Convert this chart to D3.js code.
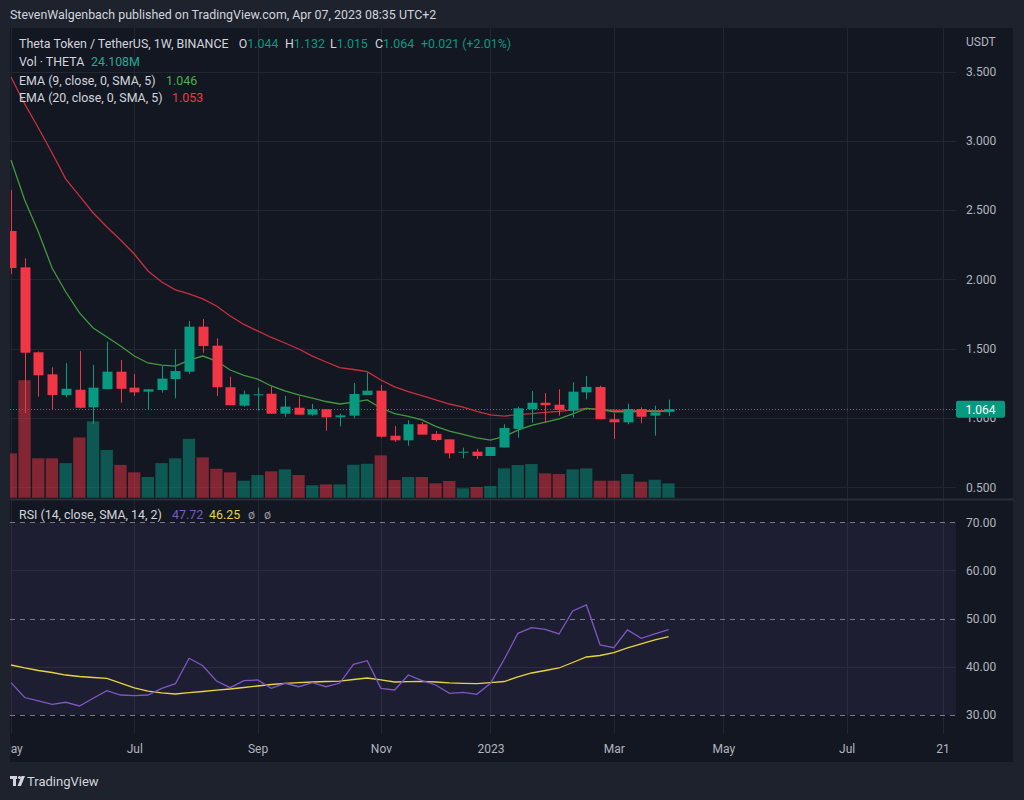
<!DOCTYPE html>
<html>
<head>
<meta charset="utf-8">
<script src="https://cdn.jsdelivr.net/npm/d3@7"></script>
<style>
  body { margin: 0; background: #1e222d; }
  svg { display: block; font-family: Roboto, "Noto Sans", sans-serif; }
</style>
</head>
<body>
<script>
// THETA / USDT weekly candles, week of May 2 2022 .. week of Apr 3 2023
var opens  = [2.349, 2.087, 1.474, 1.315, 1.166, 1.204, 1.077, 1.209, 1.334, 1.219, 1.190, 1.202, 1.281, 1.334, 1.659, 1.522, 1.222, 1.089, 1.164, 1.175, 1.031, 1.074, 1.024, 1.063, 1.005, 1.017, 1.166, 1.197, 0.872, 0.839, 0.955, 0.885, 0.846, 0.750, 0.757, 0.726, 0.787, 0.921, 1.063, 1.110, 1.096, 1.053, 1.185, 1.224, 0.991, 0.969, 1.065, 1.017, 1.044];
var highs  = [2.645, 2.152, 1.480, 1.366, 1.397, 1.483, 1.382, 1.551, 1.418, 1.317, 1.209, 1.375, 1.496, 1.700, 1.714, 1.575, 1.298, 1.197, 1.219, 1.226, 1.159, 1.154, 1.101, 1.063, 1.031, 1.253, 1.328, 1.238, 0.942, 0.983, 0.971, 0.906, 0.846, 0.786, 0.778, 0.791, 0.955, 1.082, 1.195, 1.180, 1.207, 1.258, 1.303, 1.233, 1.034, 1.103, 1.077, 1.089, 1.132];
var lows   = [2.039, 1.036, 1.154, 1.063, 1.149, 1.070, 0.957, 1.207, 1.110, 1.159, 1.063, 1.183, 1.142, 1.318, 1.471, 1.159, 1.092, 1.082, 1.053, 1.031, 1.009, 1.024, 1.017, 0.908, 0.940, 0.998, 1.166, 0.858, 0.827, 0.800, 0.880, 0.832, 0.709, 0.709, 0.704, 0.726, 0.787, 0.858, 0.966, 0.966, 1.017, 1.002, 1.135, 0.991, 0.848, 0.955, 0.962, 0.872, 1.015];
var closes = [2.082, 1.471, 1.308, 1.166, 1.211, 1.074, 1.219, 1.334, 1.211, 1.185, 1.207, 1.284, 1.339, 1.659, 1.519, 1.222, 1.092, 1.171, 1.171, 1.031, 1.082, 1.024, 1.063, 1.005, 1.019, 1.173, 1.197, 0.865, 0.839, 0.955, 0.880, 0.841, 0.745, 0.757, 0.726, 0.791, 0.928, 1.070, 1.110, 1.092, 1.058, 1.190, 1.224, 0.991, 0.969, 1.065, 1.009, 1.041, 1.064];
// volume in millions of THETA
var volumes = [74.3, 197, 66, 66, 58, 101, 128, 80, 55, 42.5, 34.7, 58, 66, 98.8, 67.6, 48.5, 42.5, 28.5, 38, 44.2, 47.5, 38, 20.8, 22.4, 22.4, 55.2, 56.9, 71, 29.6, 34.7, 34.7, 24.1, 28, 15.7, 17.9, 19.6, 49.2, 54.7, 56.4, 40.8, 39.7, 47.5, 49.2, 28.5, 28.5, 39.7, 26.8, 30.1, 24.108];
// indicator values
var ema9  = [2.862, 2.573, 2.342, 2.082, 1.909, 1.758, 1.649, 1.584, 1.520, 1.447, 1.397, 1.382, 1.375, 1.418, 1.447, 1.411, 1.346, 1.307, 1.281, 1.231, 1.195, 1.166, 1.144, 1.119, 1.101, 1.115, 1.130, 1.072, 1.032, 1.011, 0.986, 0.939, 0.906, 0.881, 0.856, 0.841, 0.867, 0.913, 0.946, 0.971, 0.993, 1.029, 1.070, 1.061, 1.045, 1.045, 1.047, 1.050, 1.046];
var ema20 = [3.460, 3.266, 3.092, 2.912, 2.724, 2.602, 2.479, 2.378, 2.284, 2.183, 2.061, 1.981, 1.924, 1.895, 1.859, 1.808, 1.736, 1.675, 1.628, 1.581, 1.541, 1.498, 1.447, 1.404, 1.364, 1.350, 1.334, 1.274, 1.224, 1.191, 1.162, 1.130, 1.101, 1.079, 1.047, 1.022, 1.014, 1.024, 1.032, 1.040, 1.048, 1.058, 1.070, 1.061, 1.056, 1.053, 1.053, 1.053, 1.053];
var rsi    = [36.71, 33.63, 32.91, 32.22, 32.64, 31.87, 33.47, 35.04, 34.15, 34.01, 34.15, 35.54, 36.50, 41.77, 40.23, 37.06, 35.67, 37.12, 37.27, 35.54, 36.58, 35.87, 36.71, 35.87, 36.64, 40.53, 41.27, 35.54, 35.19, 38.30, 37.12, 36.23, 34.50, 34.71, 34.30, 36.58, 41.56, 46.96, 48.12, 47.79, 46.82, 51.59, 52.84, 44.53, 43.97, 47.65, 45.92, 46.82, 47.72];
var rsiSma = [40.38, 39.76, 39.24, 38.82, 38.30, 37.99, 37.78, 37.62, 36.64, 35.61, 34.94, 34.61, 34.36, 34.63, 34.88, 35.15, 35.40, 35.71, 36.02, 36.33, 36.58, 36.71, 36.85, 36.95, 37.02, 37.37, 37.68, 37.27, 36.85, 36.93, 37.00, 36.85, 36.68, 36.58, 36.50, 36.71, 36.95, 37.89, 38.72, 39.24, 39.76, 40.90, 42.04, 42.35, 42.97, 43.91, 44.74, 45.57, 46.25];

var priceTicks = [0.5, 1.0, 1.5, 2.0, 2.5, 3.0, 3.5];
var rsiTicks = [30, 40, 50, 60, 70];
var timeTicks = ["2022-05-02", "2022-07-04", "2022-09-05", "2022-11-07", "2023-01-02", "2023-03-06", "2023-05-01", "2023-07-03", "2023-08-21"];
var timeTickLabels = ["May", "Jul", "Sep", "Nov", "2023", "Mar", "May", "Jul", "21"];

var parse = d3.utcParse("%Y-%m-%d");
var weeks = d3.utcMonday.range(parse("2022-05-02"), parse("2023-04-04"));
var candles = weeks.map(function(d, i) {
  return {date: d, o: opens[i], h: highs[i], l: lows[i], c: closes[i], v: volumes[i],
          e9: ema9[i], e20: ema20[i], rsi: rsi[i], rsiSma: rsiSma[i]};
});

// layout
var svgWidth = 1024, svgHeight = 800;
var frame = {left: 10, right: 1013, top: 28, bottom: 762};
var pricePane = {left: 10, right: 956, top: 28, bottom: 498};
var rsiPane = {top: 500, bottom: 734};

var green = "#089981", red = "#f23645";
var gridColor = "#222632";
var textColor = "#b2b5be";

var svg = d3.select("body").append("svg")
  .attr("width", svgWidth)
  .attr("height", svgHeight);

svg.append("rect").attr("width", svgWidth).attr("height", svgHeight).attr("fill", "#1e222d");
svg.append("rect")
  .attr("x", frame.left).attr("y", frame.top)
  .attr("width", frame.right - frame.left).attr("height", frame.bottom - frame.top)
  .attr("fill", "#131722");

// clip paths
var defs = svg.append("defs");
defs.append("clipPath").attr("id", "clipPrice").append("rect")
  .attr("x", pricePane.left).attr("y", pricePane.top)
  .attr("width", pricePane.right - pricePane.left).attr("height", pricePane.bottom - pricePane.top);
defs.append("clipPath").attr("id", "clipRsi").append("rect")
  .attr("x", pricePane.left).attr("y", rsiPane.top)
  .attr("width", pricePane.right - pricePane.left).attr("height", rsiPane.bottom - rsiPane.top);
defs.append("clipPath").attr("id", "clipTime").append("rect")
  .attr("x", pricePane.left).attr("y", rsiPane.bottom)
  .attr("width", pricePane.right - pricePane.left).attr("height", frame.bottom - rsiPane.bottom);

// scales
var x = d3.scaleUtc()
  .domain([parse("2022-05-02"), parse("2023-08-21")])
  .range([11, 942.6]);

var y = d3.scaleLinear()
  .domain([0.5, 3.5])
  .range([487.3, 71.5]);

var volH = (pricePane.bottom - pricePane.top) * 0.25;
var yVol = d3.scaleLinear()
  .domain([0, d3.max(volumes)])
  .range([497.7, 497.7 - volH]);

var yRsi = d3.scaleLinear()
  .domain([30, 70])
  .range([715, 522.3]);

var tickDates = timeTicks.map(parse);

// grid
var grid = svg.append("g").attr("stroke", gridColor).attr("stroke-width", 1);
grid.selectAll(".vgrid")
  .data(tickDates)
  .enter().append("line")
  .attr("x1", d => Math.round(x(d)) + 0.5).attr("x2", d => Math.round(x(d)) + 0.5)
  .attr("y1", pricePane.top).attr("y2", rsiPane.bottom);
grid.selectAll(".hgrid")
  .data(priceTicks)
  .enter().append("line")
  .attr("x1", pricePane.left).attr("x2", pricePane.right)
  .attr("y1", d => Math.round(y(d)) + 0.5).attr("y2", d => Math.round(y(d)) + 0.5);

// RSI pane: band + levels
var rsiG = svg.append("g").attr("clip-path", "url(#clipRsi)");
rsiG.append("rect")
  .attr("x", pricePane.left).attr("width", pricePane.right - pricePane.left)
  .attr("y", yRsi(70)).attr("height", yRsi(30) - yRsi(70))
  .attr("fill", "rgba(126,87,194,0.11)");
rsiG.selectAll(".rgrid")
  .data([40, 60])
  .enter().append("line")
  .attr("x1", pricePane.left).attr("x2", pricePane.right)
  .attr("y1", d => Math.round(yRsi(d)) + 0.5).attr("y2", d => Math.round(yRsi(d)) + 0.5)
  .attr("stroke", "#2b2c3d");
rsiG.selectAll(".band")
  .data([30, 50, 70])
  .enter().append("line")
  .attr("x1", pricePane.left).attr("x2", pricePane.right)
  .attr("y1", d => Math.round(yRsi(d)) + 0.5).attr("y2", d => Math.round(yRsi(d)) + 0.5)
  .attr("stroke", "#787b86")
  .attr("stroke-dasharray", "5,5");

// pane separator
svg.append("line")
  .attr("x1", frame.left).attr("x2", frame.right)
  .attr("y1", 499.5).attr("y2", 499.5)
  .attr("stroke", "#2a2e39").attr("stroke-width", 2);

// price pane
var chartGroup = svg.append("g").attr("clip-path", "url(#clipPrice)");

// volume
chartGroup.selectAll(".vol")
  .data(candles)
  .enter().append("rect")
  .attr("x", d => x(d.date) - 6.3)
  .attr("width", 12.3)
  .attr("y", d => yVol(d.v))
  .attr("height", d => yVol(0) - yVol(d.v))
  .attr("fill", d => d.c >= d.o ? "rgba(8,153,129,0.5)" : "rgba(242,54,69,0.5)");

// last price dotted line
chartGroup.append("line")
  .attr("x1", pricePane.left).attr("x2", pricePane.right)
  .attr("y1", Math.round(y(closes[closes.length - 1])) + 0.5)
  .attr("y2", Math.round(y(closes[closes.length - 1])) + 0.5)
  .attr("stroke", green).attr("stroke-dasharray", "1,2");

// EMA lines
var emaLine = function(key) {
  return d3.line().x(d => x(d.date)).y(d => y(d[key]));
};
chartGroup.append("path")
  .datum(candles)
  .attr("d", emaLine("e20"))
  .attr("fill", "none").attr("stroke", "#c9303e").attr("stroke-width", 1.3);
chartGroup.append("path")
  .datum(candles)
  .attr("d", emaLine("e9"))
  .attr("fill", "none").attr("stroke", "#43993f").attr("stroke-width", 1.3);

// candles
var candleG = chartGroup.selectAll(".candle")
  .data(candles)
  .enter().append("g");
candleG.append("line")
  .attr("x1", d => Math.round(x(d.date)) + 0.5).attr("x2", d => Math.round(x(d.date)) + 0.5)
  .attr("y1", d => y(d.h)).attr("y2", d => y(d.l))
  .attr("stroke", d => d.c >= d.o ? green : red);
candleG.append("rect")
  .attr("x", d => Math.round(x(d.date)) - 4.5)
  .attr("width", 10)
  .attr("y", d => y(Math.max(d.o, d.c)))
  .attr("height", d => Math.max(1, Math.abs(y(d.o) - y(d.c))))
  .attr("fill", d => d.c >= d.o ? green : red);

// RSI lines
rsiG.append("path")
  .datum(candles)
  .attr("d", d3.line().x(d => x(d.date)).y(d => yRsi(d.rsiSma)))
  .attr("fill", "none").attr("stroke", "#e8d43a").attr("stroke-width", 1.3);
rsiG.append("path")
  .datum(candles)
  .attr("d", d3.line().x(d => x(d.date)).y(d => yRsi(d.rsi)))
  .attr("fill", "none").attr("stroke", "#7e57c2").attr("stroke-width", 1.3);

// price axis (1.000 sits behind the last-price label, as in TradingView)
var priceAxis = svg.append("g")
  .attr("transform", `translate(${pricePane.right}, 0)`)
  .call(d3.axisRight(y).tickValues(priceTicks).tickFormat(d3.format(".3f")).tickSize(0).tickPadding(10));
priceAxis.select(".domain").remove();
priceAxis.selectAll("text")
  .attr("fill", textColor).style("font-size", "12px").style("font-family", "Roboto, sans-serif");

svg.append("text")
  .attr("x", 966).attr("y", 46)
  .attr("fill", textColor).style("font-size", "12px")
  .text("USDT");

// last price label
var lastY = y(closes[closes.length - 1]);
svg.append("rect")
  .attr("x", 956).attr("y", lastY - 8.5)
  .attr("width", 49).attr("height", 17).attr("rx", 2)
  .attr("fill", green);
svg.append("text")
  .attr("x", 980.5).attr("y", lastY + 4.5)
  .attr("text-anchor", "middle")
  .attr("fill", "#ffffff").style("font-size", "12px")
  .text(d3.format(".3f")(closes[closes.length - 1]));

// RSI axis
var rsiAxis = svg.append("g")
  .attr("transform", `translate(${pricePane.right}, 0)`)
  .call(d3.axisRight(yRsi).tickValues(rsiTicks).tickFormat(d3.format(".2f")).tickSize(0).tickPadding(10));
rsiAxis.select(".domain").remove();
rsiAxis.selectAll("text")
  .attr("fill", textColor).style("font-size", "12px").style("font-family", "Roboto, sans-serif");

// time axis
var timeAxis = svg.append("g")
  .attr("clip-path", "url(#clipTime)")
  .append("g")
  .attr("transform", `translate(0, ${rsiPane.bottom})`)
  .call(d3.axisBottom(x).tickValues(tickDates).tickFormat((d, i) => timeTickLabels[i]).tickSize(0).tickPadding(10));
timeAxis.select(".domain").remove();
timeAxis.selectAll("text")
  .attr("fill", textColor).style("font-size", "12px").style("font-family", "Roboto, sans-serif");

// header
svg.append("text")
  .attr("x", 10).attr("y", 19)
  .attr("fill", "#d1d4dc").style("font-size", "12.4px")
  .text("StevenWalgenbach published on TradingView.com, Apr 07, 2023 08:35 UTC+2");

// legends
var legend = svg.append("g").style("font-size", "12.4px").attr("fill", "#d1d4dc");
var l1 = legend.append("text").attr("x", 19).attr("y", 48);
l1.append("tspan").text("Theta Token / TetherUS, 1W, BINANCE");
var ohlc = [["O", "1.044", 238.7], ["H", "1.132", 285], ["L", "1.015", 330], ["C", "1.064", 375]];
ohlc.forEach(function(p) {
  l1.append("tspan").attr("x", p[2]).text(p[0]);
  l1.append("tspan").attr("fill", green).text(p[1]);
});
l1.append("tspan").attr("x", 421).attr("fill", green).text("+0.021 (+2.01%)");

var l2 = legend.append("text").attr("x", 19).attr("y", 66);
l2.append("tspan").text("Vol · THETA");
l2.append("tspan").attr("x", 91).attr("fill", "#22ab94").text("24.108M");

var l3 = legend.append("text").attr("x", 19).attr("y", 85);
l3.append("tspan").text("EMA (9, close, 0, SMA, 5)");
l3.append("tspan").attr("x", 166).attr("fill", "#4caf50").text("1.046");

var l4 = legend.append("text").attr("x", 19).attr("y", 102);
l4.append("tspan").text("EMA (20, close, 0, SMA, 5)");
l4.append("tspan").attr("x", 172).attr("fill", "#f23645").text("1.053");

var l5 = legend.append("text").attr("x", 19).attr("y", 519);
l5.append("tspan").text("RSI (14, close, SMA, 14, 2)");
l5.append("tspan").attr("x", 172).attr("fill", "#7e57c2").text("47.72");
l5.append("tspan").attr("x", 209).attr("fill", "#e8d43a").text("46.25");
l5.append("tspan").attr("x", 248).attr("fill", "#9598a1").text("ø");
l5.append("tspan").attr("x", 264).attr("fill", "#9598a1").text("ø");

// footer logo
var logo = svg.append("g").attr("fill", "#d1d4dc");
logo.append("rect").attr("x", 10).attr("y", 776).attr("width", 7).attr("height", 3);
logo.append("rect").attr("x", 13).attr("y", 776).attr("width", 3).attr("height", 10);
logo.append("circle").attr("cx", 19.5).attr("cy", 777.5).attr("r", 1.6);
logo.append("path").attr("d", "M21.5,776 L25,776 L21,786 L17.5,786 Z");
svg.append("text")
  .attr("x", 27).attr("y", 786)
  .attr("fill", "#d1d4dc").style("font-size", "13px")
  .text("TradingView");
</script>
</body>
</html>
